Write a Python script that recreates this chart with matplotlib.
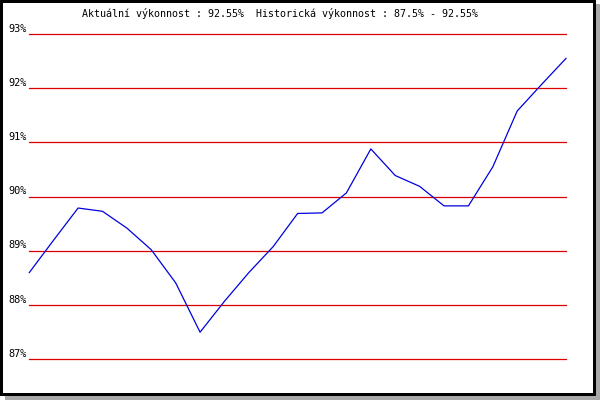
import matplotlib
matplotlib.use("Agg")
import matplotlib.pyplot as plt
from matplotlib.patches import Rectangle

title = "Aktuální výkonnost : 92.55%  Historická výkonnost : 87.5% - 92.55%"
y_ticks = [87, 88, 89, 90, 91, 92, 93]
y_labels = ["87%", "88%", "89%", "90%", "91%", "92%", "93%"]
values = [88.60, 89.20, 89.79, 89.73, 89.42, 89.02, 88.41, 87.50, 88.07, 88.60,
          89.08, 89.69, 89.70, 90.07, 90.88, 90.39, 90.19, 89.83, 89.83, 90.55,
          91.58, 92.07, 92.55]

W, H = 600, 400
fig = plt.figure(figsize=(6, 4), dpi=100)
fig.patch.set_facecolor("white")

def prect(x0, y0, x1, y1, color):
    # pixel coords with origin at top-left
    fig.patches.append(Rectangle((x0 / W, 1 - y1 / H), (x1 - x0) / W, (y1 - y0) / H,
                                 transform=fig.transFigure, facecolor=color,
                                 edgecolor="none", zorder=0))

# shadow
prect(596, 4, 600, 400, "#a8a8a8")
prect(5, 396, 600, 400, "#a8a8a8")
# black frame
prect(0, 0, 596, 2.5, "black")
prect(0, 0, 2.7, 396, "black")
prect(593, 0, 596, 396, "black")
prect(0, 393, 596, 396, "black")

ax_left, ax_right = 29.3, 566.0
ax_top, ax_bottom = 34.0, 359.3
ax = fig.add_axes([ax_left / W, 1 - ax_bottom / H, (ax_right - ax_left) / W,
                   (ax_bottom - ax_top) / H])
ax.set_facecolor("none")
ax.set_xlim(0, len(values) - 1)
ax.set_ylim(y_ticks[0], y_ticks[-1])
for s in ax.spines.values():
    s.set_visible(False)
ax.set_xticks([])
ax.set_yticks([])

for t in y_ticks:
    ax.axhline(t, color="#dd0000", lw=0.9, zorder=1, clip_on=False)

ax.plot(range(len(values)), values, color="#0000dd", lw=0.9, zorder=2, clip_on=False)

for t, lab in zip(y_ticks, y_labels):
    yp = ax_top + (y_ticks[-1] - t) / (y_ticks[-1] - y_ticks[0]) * (ax_bottom - ax_top)
    fig.text(26.5 / W, 1 - (yp - 5.5) / H, lab, ha="right", va="center",
             family="DejaVu Sans Mono", fontsize=7.4, color="black")

fig.text(280 / W, 1 - 13.5 / H, title, ha="center", va="center",
         family="DejaVu Sans Mono", fontsize=7.2, color="black")

fig.savefig("out.png", dpi=100)
